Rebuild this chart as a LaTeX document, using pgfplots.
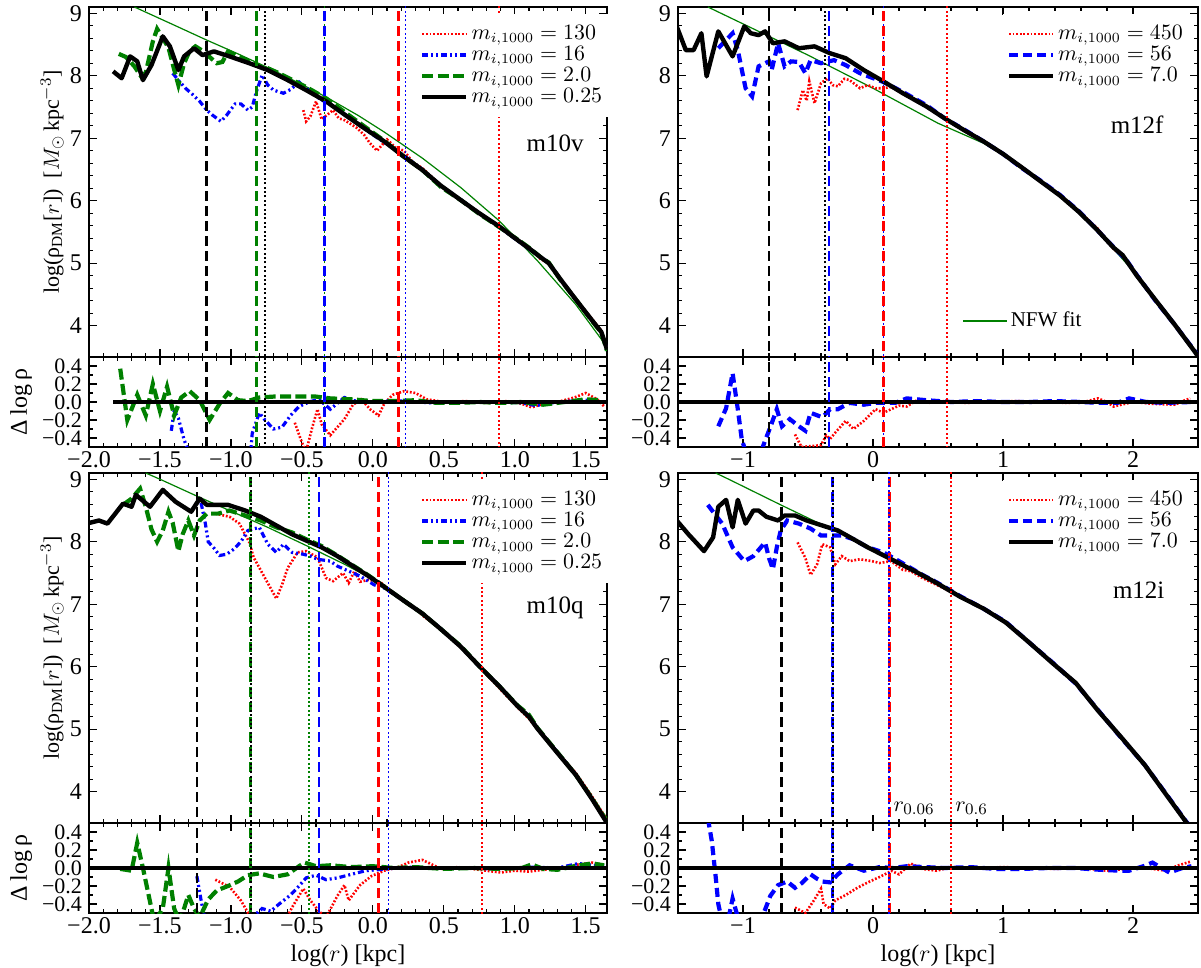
\documentclass[border=0pt]{standalone}
\usepackage{pgfplots}
\pgfplotsset{compat=1.18}
\usepackage{fontspec}
\setmainfont{Liberation Serif}
\definecolor{mgreen}{RGB}{0,128,0}
\definecolor{mred}{RGB}{255,0,0}
\definecolor{mblue}{RGB}{0,0,255}
\tikzset{
  vda/.style={line width=1.3pt, dash pattern=on 5pt off 2.5pt},
  vdo/.style={line width=0.9pt, dash pattern=on 1pt off 1.2pt},
  p130/.style={mred, line width=1.3pt, dash pattern=on 0.9pt off 0.9pt},
  p16/.style={mblue, line width=1.6pt, dash pattern=on 3pt off 1.5pt on 1pt off 1.5pt on 1pt off 1.5pt},
  p2/.style={mgreen, line width=2.1pt, dash pattern=on 5.5pt off 2.2pt},
  pK/.style={black, line width=2.2pt, line join=round},
  p56/.style={mblue, line width=2.1pt, dash pattern=on 4.5pt off 2.5pt},
  nfw/.style={mgreen, line width=0.6pt},
  plab/.style={font=\fontsize{12.5}{12.5}\selectfont},
}
\pgfplotsset{
  base/.style={
    scale only axis, clip=true, anchor=south west,
    tick align=inside,
    axis line style={line width=0.8pt},
    every tick/.style={black, line width=0.6pt},
    major tick length=4pt, minor tick length=2pt,
    tick label style={font=\fontsize{12}{12}\selectfont},
    xticklabel style={inner ysep=1pt, yshift=-1pt},
    yticklabel style={inner ysep=0pt},
    legend cell align=left,
    legend image code/.code={\draw[##1] (0pt,0pt) -- (22pt,0pt);},
    legend style={fill=white, draw=none, inner xsep=2pt, inner ysep=4pt,
      font=\fontsize{10.5}{10.5}\selectfont, row sep=-1pt,
      nodes={inner sep=1.5pt}},
  },
  leftx/.style={xmin=-2,xmax=1.65, xtick={-2,-1.5,-1,-0.5,0,0.5,1,1.5}, minor x tick num=4, width=259pt},
  rightx/.style={xmin=-1.5,xmax=2.5, xtick={-1,0,1,2}, minor x tick num=4, width=260pt},
  mainy/.style={ymin=3.5,ymax=9.1,ytick={4,5,6,7,8,9}, yticklabels={4,5,6,7,8,9}, minor y tick num=4, height=175pt, xticklabels={}},
  resy/.style={ymin=-0.5,ymax=0.5, ytick={-0.4,-0.2,0,0.2,0.4}, yticklabels={−0.4,−0.2,0.0,0.2,0.4}, minor y tick num=1, height=45pt,
     yticklabel style={font=\fontsize{11}{11}\selectfont}},
  leftlab/.style={xticklabels={−2.0,−1.5,−1.0,−0.5,0.0,0.5,1.0,1.5}},
  rightlab/.style={xticklabels={−1,0,1,2}},
  mainylab/.style={ylabel={log(ρ$_{\mathrm{DM}}$[$r$])\enspace[$M_{\odot}\,$kpc$^{-3}$]},
     ylabel style={at={(axis description cs:-0.071,0.5)}, anchor=center, font=\fontsize{11}{11}\selectfont}},
  resylab/.style={ylabel={Δ\,log\,ρ},
     ylabel style={at={(axis description cs:-0.131,0.5)}, anchor=center, font=\fontsize{12}{12}\selectfont}},
  xlab/.style={xlabel={log($r$) [kpc]},
     xlabel style={at={(axis description cs:0.5,-0.47)}, anchor=center, font=\fontsize{12}{12}\selectfont}},
}
\begin{document}
\begin{tikzpicture}
\useasboundingbox (0,0) rectangle (600.5pt,-484pt);

%================ TL main (m10v) =================
\begin{axis}[base, leftx, mainy, mainylab, at={(44.5pt,-178.5pt)},
  legend style={at={(1.005,0.98)}, anchor=north east}]
\addplot[nfw, forget plot] coordinates {(-1.68,9.10) (-1.40,8.81) (-1.17,8.57) (-0.95,8.35) (-0.74,8.13) (-0.50,7.86) (-0.33,7.66) (-0.10,7.36) (0.08,7.10) (0.35,6.68) (0.62,6.21) (0.89,5.68) (1.16,5.04) (1.43,4.34) (1.65,3.66)};
\addplot[p130] coordinates {(-0.49,7.45) (-0.47,7.27) (-0.44,7.35) (-0.40,7.59) (-0.36,7.30) (-0.33,7.36) (-0.28,7.45) (-0.24,7.32) (-0.20,7.29) (-0.15,7.22) (-0.11,7.16) (-0.06,7.05) (-0.02,6.92) (0.03,6.80) (0.06,6.88) (0.10,6.98) (0.16,6.85) (0.22,6.80) (0.28,6.62) (0.35,6.52) (0.48,6.24) (0.62,6.01) (0.75,5.79) (0.89,5.59) (1.02,5.37) (1.10,5.25) (1.18,5.07) (1.24,5.00) (1.32,4.76) (1.43,4.43) (1.54,4.12) (1.61,3.92) (1.65,3.64)};
\addlegendentry{$m_{i,1000}=130$}
\addplot[p16] coordinates {(-1.41,8.04) (-1.36,7.90) (-1.32,7.80) (-1.27,7.70) (-1.22,7.59) (-1.17,7.45) (-1.13,7.37) (-1.07,7.27) (-1.03,7.37) (-0.97,7.55) (-0.93,7.55) (-0.88,7.45) (-0.85,7.50) (-0.82,7.75) (-0.78,8.01) (-0.74,7.85) (-0.70,7.77) (-0.63,7.72) (-0.58,7.78) (-0.52,7.90) (-0.47,7.80) (-0.42,7.72) (-0.37,7.62) (-0.30,7.55) (-0.22,7.42) (-0.12,7.25) (-0.04,7.12) (0.05,6.98) (0.15,6.83) (0.25,6.67) (0.35,6.50) (0.48,6.24) (0.62,6.02) (0.75,5.80) (0.89,5.58) (1.02,5.36) (1.10,5.23) (1.18,5.10) (1.24,5.01) (1.32,4.75) (1.43,4.42) (1.54,4.10) (1.61,3.90) (1.65,3.62)};
\addlegendentry{$m_{i,1000}=16$}
\addplot[p2] coordinates {(-1.79,8.35) (-1.74,8.30) (-1.68,8.15) (-1.63,7.98) (-1.60,8.05) (-1.55,8.55) (-1.52,8.75) (-1.48,8.60) (-1.44,8.45) (-1.40,8.10) (-1.37,7.85) (-1.33,8.20) (-1.29,8.40) (-1.25,8.47) (-1.20,8.40) (-1.15,8.30) (-1.10,8.20) (-1.06,8.22) (-1.02,8.39) (-0.95,8.31) (-0.87,8.23) (-0.80,8.15) (-0.74,8.12) (-0.67,8.05) (-0.60,7.97) (-0.47,7.82) (-0.33,7.64) (-0.20,7.42) (-0.06,7.19) (0.08,6.96) (0.21,6.72) (0.35,6.49) (0.48,6.22) (0.62,6.01) (0.75,5.79) (0.89,5.58) (1.02,5.38) (1.10,5.25) (1.18,5.10) (1.24,5.01) (1.32,4.74) (1.43,4.42) (1.54,4.09) (1.61,3.89) (1.65,3.60)};
\addlegendentry{$m_{i,1000}=2.0$}
\addplot[pK] coordinates {(-1.83,8.07) (-1.77,7.96) (-1.71,8.31) (-1.66,8.23) (-1.62,7.93) (-1.56,8.17) (-1.48,8.63) (-1.43,8.47) (-1.37,8.09) (-1.33,8.31) (-1.26,8.44) (-1.20,8.33) (-1.12,8.39) (-1.01,8.31) (-0.87,8.20) (-0.74,8.09) (-0.60,7.93) (-0.47,7.77) (-0.33,7.59) (-0.20,7.38) (-0.06,7.16) (0.08,6.95) (0.21,6.72) (0.35,6.49) (0.48,6.24) (0.62,6.01) (0.75,5.80) (0.89,5.59) (1.02,5.37) (1.10,5.24) (1.18,5.10) (1.24,5.00) (1.32,4.75) (1.43,4.42) (1.54,4.10) (1.61,3.90) (1.65,3.62)};
\addlegendentry{$m_{i,1000}=0.25$}
\addplot[vda, black, forget plot] coordinates {(-1.17,0) (-1.17,10)};
\addplot[vdo, black, forget plot] coordinates {(-0.76,0) (-0.76,10)};
\addplot[vda, mgreen, forget plot] coordinates {(-0.82,0) (-0.82,10)};
\addplot[vdo, mgreen, forget plot] coordinates {(-0.34,0) (-0.34,10)};
\addplot[vda, mblue, forget plot] coordinates {(-0.34,0) (-0.34,10)};
\addplot[vdo, mblue, forget plot] coordinates {(0.23,0) (0.23,10)};
\addplot[vda, mred, forget plot] coordinates {(0.18,0) (0.18,10)};
\addplot[vdo, mred, forget plot] coordinates {(0.89,0) (0.89,10)};
\node[plab] at (rel axis cs:0.90,0.611) {m10v};
\end{axis}

%================ TL residual =================
\begin{axis}[base, leftx, resy, leftlab, resylab, at={(44.5pt,-223.5pt)}]
\addplot[p130] coordinates {(-0.55,-0.23) (-0.50,-0.45) (-0.47,-0.55) (-0.43,-0.30) (-0.39,-0.08) (-0.36,-0.25) (-0.30,-0.37) (-0.25,-0.28) (-0.20,-0.19) (-0.14,-0.03) (-0.08,0.03) (-0.02,-0.08) (0.04,-0.15) (0.08,-0.02) (0.14,0.08) (0.22,0.12) (0.30,0.10) (0.38,0.03) (0.50,0.0) (0.65,0.01) (0.80,-0.01) (0.95,0.01) (1.05,-0.02) (1.12,-0.06) (1.20,-0.02) (1.30,0.0) (1.42,0.05) (1.50,0.10) (1.58,0.03) (1.63,-0.05)};
\addplot[p16] coordinates {(-1.42,-0.32) (-1.40,-0.10) (-1.37,-0.18) (-1.35,-0.30) (-1.33,-0.42) (-1.25,-0.75) (-1.10,-0.90) (-0.95,-0.80) (-0.86,-0.55) (-0.85,-0.35) (-0.80,-0.12) (-0.76,-0.20) (-0.70,-0.30) (-0.64,-0.28) (-0.58,-0.15) (-0.52,-0.05) (-0.45,0.0) (-0.38,0.03) (-0.30,-0.08) (-0.20,0.05) (-0.10,0.0) (0.0,0.0) (0.10,0.01) (0.25,0.01) (0.40,-0.01) (0.55,0.0) (0.75,0.0) (0.90,0.0) (1.05,-0.01) (1.15,-0.04) (1.25,-0.01) (1.40,0.01) (1.52,0.02) (1.62,0.0)};
\addplot[p2] coordinates {(-1.78,0.37) (-1.73,-0.20) (-1.66,0.08) (-1.60,-0.15) (-1.55,0.20) (-1.50,-0.10) (-1.45,0.17) (-1.40,-0.15) (-1.35,0.05) (-1.29,0.12) (-1.22,0.02) (-1.15,-0.20) (-1.08,-0.02) (-1.02,0.10) (-0.95,0.02) (-0.88,0.01) (-0.80,0.05) (-0.70,0.06) (-0.55,0.06) (-0.40,0.06) (-0.30,0.04) (-0.15,0.03) (0.0,0.01) (0.15,0.01) (0.30,0.02) (0.45,-0.01) (0.60,-0.01) (0.75,0.0) (0.90,-0.01) (1.05,0.0) (1.20,-0.03) (1.35,0.0) (1.50,0.03) (1.60,0.02)};
\addplot[pK] coordinates {(-1.83,0) (1.65,0)};
\addplot[vda, black] coordinates {(-1.17,-1) (-1.17,1)};
\addplot[vdo, black] coordinates {(-0.76,-1) (-0.76,1)};
\addplot[vda, mgreen] coordinates {(-0.82,-1) (-0.82,1)};
\addplot[vdo, mgreen] coordinates {(-0.34,-1) (-0.34,1)};
\addplot[vda, mblue] coordinates {(-0.34,-1) (-0.34,1)};
\addplot[vdo, mblue] coordinates {(0.23,-1) (0.23,1)};
\addplot[vda, mred] coordinates {(0.18,-1) (0.18,1)};
\addplot[vdo, mred] coordinates {(0.89,-1) (0.89,1)};
\end{axis}

%================ TR main (m12f) =================
\begin{axis}[base, rightx, mainy, at={(339pt,-178.5pt)},
  legend style={at={(0.985,0.98)}, anchor=north east}]
\addplot[nfw, forget plot] coordinates {(-1.27,9.10) (-1.0,8.83) (-0.5,8.33) (0.0,7.80) (0.5,7.24) (0.85,6.92) (1.0,6.74) (1.25,6.39) (1.5,5.97) (1.75,5.46) (2.0,4.88) (2.25,4.24) (2.5,3.54)};
\addplot[p130] coordinates {(-0.58,7.45) (-0.54,7.77) (-0.51,7.60) (-0.49,7.91) (-0.45,7.56) (-0.40,7.88) (-0.35,7.96) (-0.31,7.85) (-0.27,7.83) (-0.22,7.95) (-0.18,7.93) (-0.10,7.80) (-0.04,7.85) (0.02,7.80) (0.08,7.80) (0.14,7.82) (0.20,7.75) (0.26,7.68) (0.32,7.62) (0.44,7.47) (0.55,7.33) (0.70,7.12) (0.85,6.96) (1.00,6.74) (1.14,6.55) (1.29,6.30) (1.44,6.09) (1.59,5.82) (1.73,5.55) (1.85,5.23) (1.92,5.12) (1.97,4.98) (2.03,4.79) (2.17,4.41) (2.32,4.01) (2.47,3.61) (2.51,3.49)};
\addlegendentry{$m_{i,1000}=450$}
\addplot[p56] coordinates {(-1.19,8.44) (-1.08,8.68) (-1.04,8.41) (-0.98,7.80) (-0.93,7.67) (-0.88,8.15) (-0.80,8.23) (-0.78,8.09) (-0.73,8.52) (-0.68,8.15) (-0.63,8.23) (-0.57,8.22) (-0.52,8.04) (-0.48,8.25) (-0.40,8.20) (-0.30,8.25) (-0.21,8.17) (-0.10,8.04) (0.08,7.90) (0.23,7.74) (0.41,7.53) (0.55,7.32) (0.70,7.14) (0.85,6.95) (1.00,6.75) (1.14,6.53) (1.29,6.32) (1.44,6.09) (1.59,5.82) (1.73,5.52) (1.85,5.26) (1.95,5.05) (2.03,4.81) (2.17,4.41) (2.32,4.02) (2.47,3.61) (2.51,3.49)};
\addlegendentry{$m_{i,1000}=56$}
\addplot[pK] coordinates {(-1.51,8.79) (-1.44,8.41) (-1.38,8.41) (-1.32,8.68) (-1.28,7.99) (-1.19,8.71) (-1.08,8.31) (-0.99,8.79) (-0.94,8.68) (-0.88,8.65) (-0.83,8.71) (-0.77,8.52) (-0.68,8.55) (-0.57,8.44) (-0.45,8.47) (-0.33,8.36) (-0.21,8.28) (-0.07,8.09) (0.08,7.91) (0.23,7.72) (0.41,7.51) (0.55,7.32) (0.70,7.13) (0.85,6.95) (1.00,6.75) (1.14,6.54) (1.29,6.31) (1.44,6.08) (1.59,5.81) (1.73,5.52) (1.85,5.25) (1.92,5.13) (1.97,4.98) (2.03,4.80) (2.17,4.42) (2.32,4.02) (2.47,3.60) (2.51,3.48)};
\addlegendentry{$m_{i,1000}=7.0$}
\addplot[vda, black, forget plot] coordinates {(-0.80,0) (-0.80,10)};
\addplot[vdo, black, forget plot] coordinates {(-0.37,0) (-0.37,10)};
\addplot[vda, mblue, forget plot] coordinates {(-0.34,0) (-0.34,10)};
\addplot[vdo, mblue, forget plot] coordinates {(0.08,0) (0.08,10)};
\addplot[vda, mred, forget plot] coordinates {(0.08,0) (0.08,10)};
\addplot[vdo, mred, forget plot] coordinates {(0.57,0) (0.57,10)};
\node[plab] at (rel axis cs:0.883,0.663) {m12f};
\end{axis}
\begin{axis}[base, rightx, mainy, at={(339pt,-178.5pt)}, hide axis,
  legend style={at={(0.79,0.103)}, anchor=east}]
\addplot[draw=none, forget plot] coordinates {(0,5)};
\addlegendimage{nfw}
\addlegendentry{NFW fit}
\end{axis}

%================ TR residual =================
\begin{axis}[base, rightx, resy, rightlab, at={(339pt,-223.5pt)}]
\addplot[p130] coordinates {(-0.60,-0.36) (-0.55,-0.50) (-0.40,-0.48) (-0.36,-0.37) (-0.33,-0.41) (-0.29,-0.34) (-0.21,-0.21) (-0.15,-0.30) (-0.07,-0.21) (0.02,-0.08) (0.08,-0.12) (0.14,-0.08) (0.20,-0.04) (0.26,-0.05) (0.35,0.03) (0.44,-0.01) (0.55,0.01) (0.70,-0.01) (0.90,0.0) (1.10,0.01) (1.30,0.0) (1.50,-0.01) (1.65,0.01) (1.73,0.04) (1.80,0.0) (1.85,-0.05) (2.0,0.0) (2.15,-0.02) (2.32,-0.03) (2.40,0.02) (2.44,0.04)};
\addplot[p56] coordinates {(-1.19,-0.27) (-1.13,-0.07) (-1.08,0.32) (-1.04,-0.08) (-1.01,-0.41) (-0.97,-0.60) (-0.90,-0.70) (-0.83,-0.43) (-0.79,-0.28) (-0.74,-0.08) (-0.70,-0.27) (-0.64,-0.19) (-0.57,-0.27) (-0.52,-0.32) (-0.48,-0.12) (-0.39,-0.17) (-0.33,-0.08) (-0.27,-0.08) (-0.18,-0.01) (-0.07,-0.03) (0.02,-0.01) (0.17,-0.01) (0.26,0.04) (0.41,0.02) (0.60,0.0) (0.80,0.01) (1.0,0.0) (1.2,0.0) (1.4,0.01) (1.6,0.0) (1.75,-0.01) (1.88,-0.01) (1.97,0.04) (2.1,0.0) (2.25,-0.01) (2.45,0.0)};
\addplot[pK] coordinates {(-1.5,0) (2.5,0)};
\addplot[vda, black] coordinates {(-0.80,-1) (-0.80,1)};
\addplot[vdo, black] coordinates {(-0.37,-1) (-0.37,1)};
\addplot[vda, mblue] coordinates {(-0.34,-1) (-0.34,1)};
\addplot[vdo, mblue] coordinates {(0.08,-1) (0.08,1)};
\addplot[vda, mred] coordinates {(0.08,-1) (0.08,1)};
\addplot[vdo, mred] coordinates {(0.57,-1) (0.57,1)};
\end{axis}

%================ BL main (m10q) =================
\begin{axis}[base, leftx, mainy, mainylab, at={(44.5pt,-411.5pt)},
  legend style={at={(1.005,0.98)}, anchor=north east}]
\addplot[nfw, forget plot] coordinates {(-1.60,9.10) (-1.49,8.99) (-1.22,8.71) (-1.01,8.50) (-0.74,8.23) (-0.47,7.94) (-0.20,7.64) (0.00,7.40) (0.21,7.10) (0.35,6.86) (0.48,6.61) (0.62,6.33) (0.75,6.02) (0.89,5.70) (1.02,5.38) (1.16,5.00) (1.29,4.64) (1.43,4.26) (1.54,3.92) (1.65,3.58)};
\addplot[p130] coordinates {(-1.11,8.45) (-1.01,8.40) (-0.94,8.29) (-0.87,7.99) (-0.84,7.75) (-0.76,7.42) (-0.68,7.09) (-0.64,7.31) (-0.60,7.58) (-0.53,7.83) (-0.47,7.85) (-0.39,7.75) (-0.33,7.42) (-0.28,7.37) (-0.21,7.50) (-0.17,7.34) (-0.13,7.53) (-0.09,7.36) (-0.03,7.39) (0.05,7.36) (0.13,7.20) (0.24,7.01) (0.32,6.90) (0.35,6.82) (0.48,6.60) (0.62,6.31) (0.75,6.00) (0.89,5.66) (1.02,5.35) (1.10,5.17) (1.16,5.00) (1.29,4.66) (1.43,4.30) (1.54,3.94) (1.65,3.55)};
\addlegendentry{$m_{i,1000}=130$}
\addplot[p16] coordinates {(-1.21,8.62) (-1.18,8.29) (-1.16,8.00) (-1.12,7.90) (-1.08,7.78) (-1.03,7.80) (-0.98,7.88) (-0.93,8.00) (-0.88,8.18) (-0.80,8.23) (-0.74,7.96) (-0.68,7.83) (-0.63,7.96) (-0.57,7.83) (-0.49,7.80) (-0.44,7.77) (-0.39,7.72) (-0.30,7.69) (-0.25,7.61) (-0.17,7.53) (-0.09,7.45) (0.01,7.31) (0.08,7.26) (0.21,7.07) (0.35,6.85) (0.48,6.61) (0.62,6.32) (0.75,6.00) (0.89,5.70) (1.02,5.37) (1.10,5.21) (1.16,5.01) (1.29,4.66) (1.43,4.28) (1.54,3.90) (1.65,3.52)};
\addlegendentry{$m_{i,1000}=16$}
\addplot[p2] coordinates {(-1.76,8.59) (-1.70,8.69) (-1.64,8.85) (-1.60,8.56) (-1.56,8.20) (-1.52,8.00) (-1.48,8.18) (-1.44,8.48) (-1.41,8.30) (-1.37,7.85) (-1.34,8.12) (-1.30,8.34) (-1.26,8.10) (-1.22,8.34) (-1.17,8.45) (-1.09,8.45) (-1.01,8.50) (-0.90,8.42) (-0.79,8.34) (-0.68,8.23) (-0.57,8.15) (-0.47,8.04) (-0.36,7.93) (-0.25,7.78) (-0.14,7.62) (-0.03,7.46) (0.08,7.28) (0.21,7.07) (0.35,6.85) (0.48,6.60) (0.62,6.33) (0.75,6.01) (0.89,5.69) (1.02,5.38) (1.10,5.23) (1.16,5.02) (1.29,4.66) (1.43,4.27) (1.54,3.91) (1.65,3.52)};
\addlegendentry{$m_{i,1000}=2.0$}
\addplot[pK] coordinates {(-2.00,8.30) (-1.93,8.34) (-1.87,8.29) (-1.76,8.61) (-1.70,8.56) (-1.67,8.75) (-1.57,8.56) (-1.48,8.83) (-1.39,8.64) (-1.28,8.48) (-1.22,8.69) (-1.17,8.59) (-1.09,8.59) (-1.02,8.59) (-0.90,8.50) (-0.79,8.40) (-0.68,8.26) (-0.57,8.12) (-0.47,8.02) (-0.36,7.91) (-0.25,7.77) (-0.14,7.61) (-0.03,7.45) (0.08,7.28) (0.21,7.07) (0.35,6.85) (0.48,6.60) (0.62,6.32) (0.75,6.01) (0.89,5.69) (1.02,5.37) (1.10,5.20) (1.16,5.01) (1.29,4.65) (1.43,4.27) (1.54,3.90) (1.65,3.50)};
\addlegendentry{$m_{i,1000}=0.25$}
\addplot[vda, black, forget plot] coordinates {(-1.24,0) (-1.24,10)};
\addplot[vda, mgreen, forget plot] coordinates {(-0.86,0) (-0.86,10)};
\addplot[vdo, black, forget plot] coordinates {(-0.86,0) (-0.86,10)};
\addplot[vdo, mgreen, forget plot] coordinates {(-0.45,0) (-0.45,10)};
\addplot[vda, mblue, forget plot] coordinates {(-0.38,0) (-0.38,10)};
\addplot[vdo, mblue, forget plot] coordinates {(0.11,0) (0.11,10)};
\addplot[vda, mred, forget plot] coordinates {(0.04,0) (0.04,10)};
\addplot[vdo, mred, forget plot] coordinates {(0.77,0) (0.77,10)};
\node[plab] at (rel axis cs:0.90,0.614) {m10q};
\end{axis}

%================ BL residual =================
\begin{axis}[base, leftx, resy, leftlab, resylab, xlab, at={(44.5pt,-456.5pt)}]
\addplot[p130] coordinates {(-1.11,-0.13) (-1.01,-0.21) (-0.93,-0.36) (-0.86,-0.55) (-0.78,-0.80) (-0.68,-0.95) (-0.62,-0.60) (-0.57,-0.44) (-0.49,-0.23) (-0.44,-0.36) (-0.38,-0.48) (-0.33,-0.55) (-0.25,-0.31) (-0.20,-0.19) (-0.17,-0.36) (-0.09,-0.19) (-0.01,-0.09) (0.08,-0.03) (0.18,0.01) (0.25,0.06) (0.35,0.09) (0.48,-0.01) (0.60,0.01) (0.75,-0.02) (0.90,-0.05) (1.0,-0.03) (1.1,-0.04) (1.2,-0.02) (1.35,0.01) (1.45,0.04) (1.55,0.06) (1.63,0.03)};
\addplot[p16] coordinates {(-1.24,-0.09) (-1.21,-0.36) (-1.18,-0.60) (-1.05,-0.90) (-0.92,-0.70) (-0.85,-0.55) (-0.78,-0.45) (-0.72,-0.48) (-0.66,-0.40) (-0.58,-0.30) (-0.52,-0.20) (-0.47,-0.11) (-0.40,-0.08) (-0.33,-0.13) (-0.25,-0.11) (-0.15,-0.07) (-0.05,-0.03) (0.10,-0.01) (0.25,0.01) (0.45,0.0) (0.65,0.0) (0.85,-0.01) (1.0,0.0) (1.15,0.01) (1.30,0.0) (1.45,0.05) (1.55,0.03) (1.63,0.02)};
\addplot[p2] coordinates {(-1.78,-0.01) (-1.70,-0.03) (-1.66,0.28) (-1.62,0.0) (-1.58,-0.30) (-1.54,-0.60) (-1.48,-0.45) (-1.44,0.0) (-1.40,-0.45) (-1.36,-0.60) (-1.30,-0.30) (-1.26,-0.45) (-1.22,-0.55) (-1.16,-0.35) (-1.10,-0.25) (-1.02,-0.20) (-0.95,-0.15) (-0.88,-0.08) (-0.80,-0.06) (-0.70,-0.10) (-0.60,-0.07) (-0.52,0.02) (-0.48,0.06) (-0.40,0.02) (-0.30,0.03) (-0.15,0.01) (0.0,0.02) (0.15,0.0) (0.30,0.01) (0.50,-0.01) (0.70,0.0) (0.90,-0.01) (1.05,0.0) (1.12,0.04) (1.20,-0.01) (1.30,-0.02) (1.45,0.03) (1.55,0.05) (1.63,0.03)};
\addplot[pK] coordinates {(-2.0,0) (1.65,0)};
\addplot[vda, black] coordinates {(-1.24,-1) (-1.24,1)};
\addplot[vda, mgreen] coordinates {(-0.86,-1) (-0.86,1)};
\addplot[vdo, black] coordinates {(-0.86,-1) (-0.86,1)};
\addplot[vdo, mgreen] coordinates {(-0.45,-1) (-0.45,1)};
\addplot[vda, mblue] coordinates {(-0.38,-1) (-0.38,1)};
\addplot[vdo, mblue] coordinates {(0.11,-1) (0.11,1)};
\addplot[vda, mred] coordinates {(0.04,-1) (0.04,1)};
\addplot[vdo, mred] coordinates {(0.77,-1) (0.77,1)};
\end{axis}

%================ BR main (m12i) =================
\begin{axis}[base, rightx, mainy, at={(339pt,-411.5pt)},
  legend style={at={(0.985,0.98)}, anchor=north east}]
\addplot[nfw, forget plot] coordinates {(-1.21,9.10) (-1.10,8.99) (-0.71,8.59) (-0.33,8.21) (-0.04,7.92) (0.14,7.73) (0.32,7.53) (0.49,7.33) (0.67,7.12) (0.85,6.92) (1.02,6.70) (1.20,6.40) (1.38,6.07) (1.56,5.72) (1.73,5.32) (1.91,4.86) (2.09,4.42) (2.26,3.93) (2.43,3.45)};
\addplot[p130] coordinates {(-0.58,7.99) (-0.52,7.74) (-0.48,7.47) (-0.43,7.64) (-0.39,7.96) (-0.33,7.91) (-0.29,7.64) (-0.24,7.77) (-0.18,7.69) (-0.10,7.72) (-0.01,7.69) (0.05,7.66) (0.14,7.69) (0.23,7.55) (0.29,7.53) (0.38,7.42) (0.49,7.31) (0.67,7.13) (0.85,6.94) (1.02,6.70) (1.20,6.40) (1.38,6.06) (1.56,5.73) (1.73,5.30) (1.91,4.87) (2.09,4.42) (2.26,3.95) (2.41,3.53) (2.45,3.44)};
\addlegendentry{$m_{i,1000}=450$}
\addplot[p56] coordinates {(-1.27,8.59) (-1.22,8.45) (-1.16,8.29) (-1.08,7.91) (-0.99,7.69) (-0.92,7.77) (-0.83,7.99) (-0.80,7.74) (-0.77,7.56) (-0.74,7.91) (-0.71,8.18) (-0.66,8.34) (-0.57,8.29) (-0.48,8.21) (-0.40,8.10) (-0.33,8.10) (-0.24,8.10) (-0.15,8.04) (-0.04,7.91) (0.08,7.83) (0.20,7.69) (0.38,7.47) (0.49,7.35) (0.67,7.13) (0.85,6.93) (1.02,6.72) (1.20,6.39) (1.38,6.07) (1.56,5.73) (1.73,5.31) (1.91,4.86) (2.09,4.43) (2.20,4.12) (2.26,3.95) (2.41,3.52) (2.45,3.43)};
\addlegendentry{$m_{i,1000}=56$}
\addplot[pK] coordinates {(-1.51,8.34) (-1.42,8.12) (-1.30,7.85) (-1.23,8.07) (-1.19,8.56) (-1.13,8.67) (-1.08,8.23) (-1.04,8.67) (-0.98,8.29) (-0.92,8.50) (-0.88,8.50) (-0.82,8.40) (-0.73,8.34) (-0.68,8.42) (-0.60,8.42) (-0.51,8.34) (-0.39,8.26) (-0.27,8.18) (-0.15,8.04) (-0.04,7.91) (0.14,7.72) (0.32,7.53) (0.49,7.34) (0.67,7.12) (0.85,6.93) (1.02,6.71) (1.20,6.39) (1.38,6.06) (1.56,5.74) (1.73,5.30) (1.91,4.87) (2.09,4.43) (2.26,3.94) (2.41,3.51) (2.45,3.42)};
\addlegendentry{$m_{i,1000}=7.0$}
\addplot[vda, black, forget plot] coordinates {(-0.705,0) (-0.705,10)};
\addplot[vda, mblue, forget plot] coordinates {(-0.31,0) (-0.31,10)};
\addplot[vdo, black, forget plot] coordinates {(-0.31,0) (-0.31,10)};
\addplot[vda, mred, forget plot] coordinates {(0.126,0) (0.126,10)};
\addplot[vdo, mblue, forget plot] coordinates {(0.126,0) (0.126,10)};
\addplot[vdo, mred, forget plot] coordinates {(0.60,0) (0.60,10)};
\node[plab] at (rel axis cs:0.886,0.666) {m12i};
\node[anchor=west, font=\fontsize{11}{11}\selectfont, inner sep=1pt] at (axis cs:0.14,3.74) {$r_{0.06}$};
\node[anchor=west, font=\fontsize{11}{11}\selectfont, inner sep=1pt] at (axis cs:0.615,3.74) {$r_{0.6}$};
\end{axis}

%================ BR residual =================
\begin{axis}[base, rightx, resy, rightlab, xlab, at={(339pt,-456.5pt)}]
\addplot[p130] coordinates {(-0.60,-0.44) (-0.52,-0.50) (-0.45,-0.35) (-0.40,-0.23) (-0.38,-0.40) (-0.33,-0.45) (-0.29,-0.36) (-0.21,-0.30) (-0.12,-0.22) (-0.04,-0.16) (0.05,-0.10) (0.12,-0.05) (0.14,-0.03) (0.20,-0.07) (0.29,0.05) (0.38,-0.01) (0.49,-0.03) (0.60,0.01) (0.80,0.0) (1.0,0.01) (1.2,0.0) (1.4,-0.01) (1.6,0.0) (1.8,-0.03) (1.95,-0.01) (2.1,0.0) (2.25,-0.03) (2.35,0.03) (2.44,0.07)};
\addplot[p56] coordinates {(-1.27,0.55) (-1.24,0.30) (-1.21,-0.10) (-1.19,-0.40) (-1.16,-0.60) (-1.11,-0.55) (-1.08,-0.34) (-1.03,-0.60) (-0.92,-0.70) (-0.84,-0.50) (-0.79,-0.31) (-0.73,-0.19) (-0.66,-0.15) (-0.60,-0.22) (-0.55,-0.17) (-0.48,-0.07) (-0.43,-0.12) (-0.39,-0.15) (-0.33,-0.16) (-0.27,-0.07) (-0.18,0.03) (-0.07,-0.03) (0.05,0.01) (0.15,0.0) (0.26,0.02) (0.40,0.01) (0.55,0.0) (0.75,0.01) (0.95,-0.01) (1.15,-0.01) (1.35,0.0) (1.55,0.0) (1.75,-0.02) (1.90,-0.03) (1.97,-0.03) (2.08,0.02) (2.15,0.06) (2.22,0.0) (2.28,-0.05) (2.38,0.0) (2.45,0.02)};
\addplot[pK] coordinates {(-1.5,0) (2.5,0)};
\addplot[vda, black] coordinates {(-0.705,-1) (-0.705,1)};
\addplot[vda, mblue] coordinates {(-0.31,-1) (-0.31,1)};
\addplot[vdo, black] coordinates {(-0.31,-1) (-0.31,1)};
\addplot[vda, mred] coordinates {(0.126,-1) (0.126,1)};
\addplot[vdo, mblue] coordinates {(0.126,-1) (0.126,1)};
\addplot[vdo, mred] coordinates {(0.60,-1) (0.60,1)};
\end{axis}
\end{tikzpicture}
\end{document}
